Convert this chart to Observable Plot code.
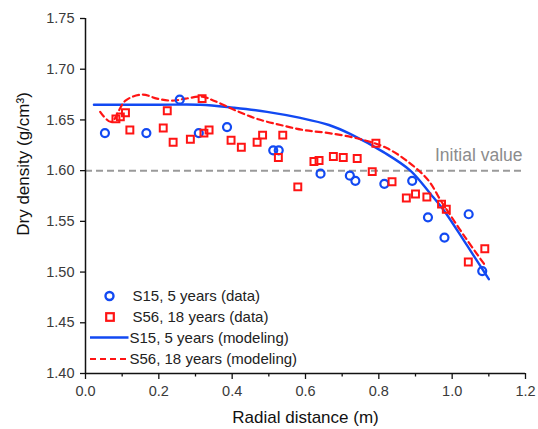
<!DOCTYPE html>
<html>
<head>
<meta charset="utf-8">
<script src="https://cdn.jsdelivr.net/npm/d3@7"></script>
<script src="https://cdn.jsdelivr.net/npm/@observablehq/plot@0.6"></script>
<style>
  body { margin: 0; background: #fff; }
  #chart { width: 538px; height: 429px; }
</style>
</head>
<body>
<div id="chart"></div>
<script>
// ---- Data ----
const s15DataX = [0.053, 0.166, 0.257, 0.309, 0.386, 0.512, 0.527, 0.641, 0.721, 0.736, 0.815, 0.891, 0.934, 0.979, 1.045, 1.082];
const s15DataY = [1.637, 1.637, 1.670, 1.637, 1.643, 1.620, 1.620, 1.597, 1.595, 1.590, 1.587, 1.590, 1.554, 1.534, 1.557, 1.501];

const s56DataX = [0.083, 0.095, 0.109, 0.121, 0.212, 0.223, 0.239, 0.286, 0.318, 0.323, 0.337, 0.397, 0.425, 0.468, 0.483, 0.526, 0.538, 0.579, 0.623, 0.637, 0.676, 0.703, 0.741, 0.782, 0.792, 0.836, 0.875, 0.900, 0.931, 0.971, 0.984, 1.044, 1.089];
const s56DataY = [1.651, 1.653, 1.657, 1.640, 1.642, 1.659, 1.628, 1.631, 1.671, 1.637, 1.640, 1.630, 1.623, 1.628, 1.635, 1.613, 1.635, 1.584, 1.609, 1.610, 1.614, 1.613, 1.612, 1.599, 1.627, 1.589, 1.573, 1.577, 1.574, 1.567, 1.562, 1.510, 1.523];

const s15ModelX = [0.023, 0.10, 0.20, 0.314, 0.404, 0.495, 0.586, 0.664, 0.723, 0.814, 0.886, 0.941, 0.977, 1.041, 1.100];
const s15ModelY = [1.665, 1.665, 1.665, 1.665, 1.662, 1.658, 1.652, 1.645, 1.636, 1.618, 1.600, 1.577, 1.561, 1.526, 1.493];

const s56ModelX = [0.040, 0.070, 0.109, 0.155, 0.195, 0.236, 0.273, 0.318, 0.350, 0.405, 0.468, 0.532, 0.595, 0.664, 0.750, 0.823, 0.886, 0.936, 0.968, 0.986, 1.036, 1.091];
const s56ModelY = [1.658, 1.648, 1.669, 1.675, 1.671, 1.669, 1.671, 1.673, 1.669, 1.660, 1.651, 1.645, 1.640, 1.637, 1.631, 1.622, 1.607, 1.590, 1.571, 1.561, 1.534, 1.506];

const initialValue = [1.60];
const initialLabel = "Initial value";

const xMajorTicks = [0, 0.2, 0.4, 0.6, 0.8, 1.0, 1.2];
const xMinorTicks = [0.1, 0.3, 0.5, 0.7, 0.9, 1.1];
const yTicks = [1.40, 1.45, 1.50, 1.55, 1.60, 1.65, 1.70, 1.75];

const xTitle = "Radial distance (m)";
const yTitle = "Dry density (g/cm³)";

const legendLabels = ["S15, 5 years (data)", "S56, 18 years (data)", "S15, 5 years (modeling)", "S56, 18 years (modeling)"];

// ---- Build tables ----
const zip = (xs, ys) => xs.map((x, i) => ({x, y: ys[i]}));
const s15Data = zip(s15DataX, s15DataY);
const s56Data = zip(s56DataX, s56DataY);
const s15Model = zip(s15ModelX, s15ModelY);
const s56Model = zip(s56ModelX, s56ModelY);

const BLUE = "#1249f2";
const RED = "#ff1414";
const FONT = "'Liberation Sans', Arial, sans-serif";

const chart = Plot.plot({
  width: 538,
  height: 429,
  marginLeft: 85,
  marginRight: 13,
  marginTop: 18,
  marginBottom: 56,
  x: {domain: [0, 1.2]},
  y: {domain: [1.4, 1.75]},
  style: {fontFamily: FONT, background: "#fff", overflow: "visible"},
  marks: [
    Plot.ruleY(initialValue, {stroke: "#9a9a9a", strokeWidth: 2, strokeDasharray: "7,4"}),
    Plot.text(initialValue, {y: d => d, frameAnchor: "right", textAnchor: "end", text: () => initialLabel,
      dx: -3, dy: -15, lineAnchor: "middle", fill: "#8c8c8c", fontSize: 17.5}),
    Plot.line(s15Model, {x: "x", y: "y", stroke: BLUE, strokeWidth: 2.4, curve: "catmull-rom"}),
    Plot.line(s56Model, {x: "x", y: "y", stroke: RED, strokeWidth: 2.2, strokeDasharray: "6,4", curve: "catmull-rom"}),
    Plot.dot(s15Data, {x: "x", y: "y", r: 4, stroke: BLUE, strokeWidth: 2.2, fill: "none"}),
    Plot.dot(s56Data, {x: "x", y: "y", r: 3.9, symbol: "square", stroke: RED, strokeWidth: 2, fill: "none"}),
    Plot.axisX(xMajorTicks, {tickSize: 6, tickPadding: 6, tickFormat: d3.format(".1f"), fontSize: 14.5, fill: "#3a3a3a", stroke: "#111", strokeWidth: 1.3, label: null}),
    Plot.axisX(xMinorTicks, {tickSize: 3.5, text: null, stroke: "#111", strokeWidth: 1.3, label: null}),
    Plot.axisY(yTicks, {tickSize: 5, tickPadding: 6, tickFormat: d3.format(".2f"), fontSize: 14.5, fill: "#3a3a3a", stroke: "#111", strokeWidth: 1.3, label: null}),
    Plot.ruleX([0], {stroke: "#111", strokeWidth: 1.5}),
    Plot.ruleY([1.4], {stroke: "#111", strokeWidth: 1.5}),
    Plot.text([xTitle], {text: d => d, frameAnchor: "bottom", dy: 44, lineAnchor: "middle", fontSize: 17, fill: "#111"})
  ]
});

const svg = d3.select(chart);

// ---- Y axis title ----
svg.append("text")
  .attr("transform", "translate(23,164) rotate(-90)")
  .attr("text-anchor", "middle")
  .attr("dy", "0.35em")
  .attr("font-family", FONT)
  .attr("font-size", 17)
  .attr("fill", "#111")
  .text(yTitle);

// ---- Legend (inside plot, lower left) ----
const lg = svg.append("g").attr("font-family", FONT).attr("font-size", 15).attr("fill", "#222").attr("text-anchor", "start");
const rows = [296, 317, 337.5, 359];
lg.append("circle").attr("cx", 109.5).attr("cy", rows[0]).attr("r", 4).attr("fill", "none").attr("stroke", BLUE).attr("stroke-width", 2.4);
lg.append("rect").attr("x", 106.2).attr("y", rows[1] - 3.8).attr("width", 7.6).attr("height", 7.6).attr("fill", "none").attr("stroke", RED).attr("stroke-width", 2.2);
lg.append("line").attr("x1", 90).attr("x2", 128.5).attr("y1", rows[2]).attr("y2", rows[2]).attr("stroke", BLUE).attr("stroke-width", 2.4);
lg.append("line").attr("x1", 90).attr("x2", 128.5).attr("y1", rows[3]).attr("y2", rows[3]).attr("stroke", RED).attr("stroke-width", 2.2).attr("stroke-dasharray", "6,4");
const tx = [132.5, 132.5, 129.5, 129.5];
legendLabels.forEach((t, i) => {
  lg.append("text").attr("x", tx[i]).attr("y", rows[i]).attr("dy", "0.35em").attr("text-anchor", "start").text(t);
});

document.getElementById("chart").appendChild(chart);
</script>
</body>
</html>
